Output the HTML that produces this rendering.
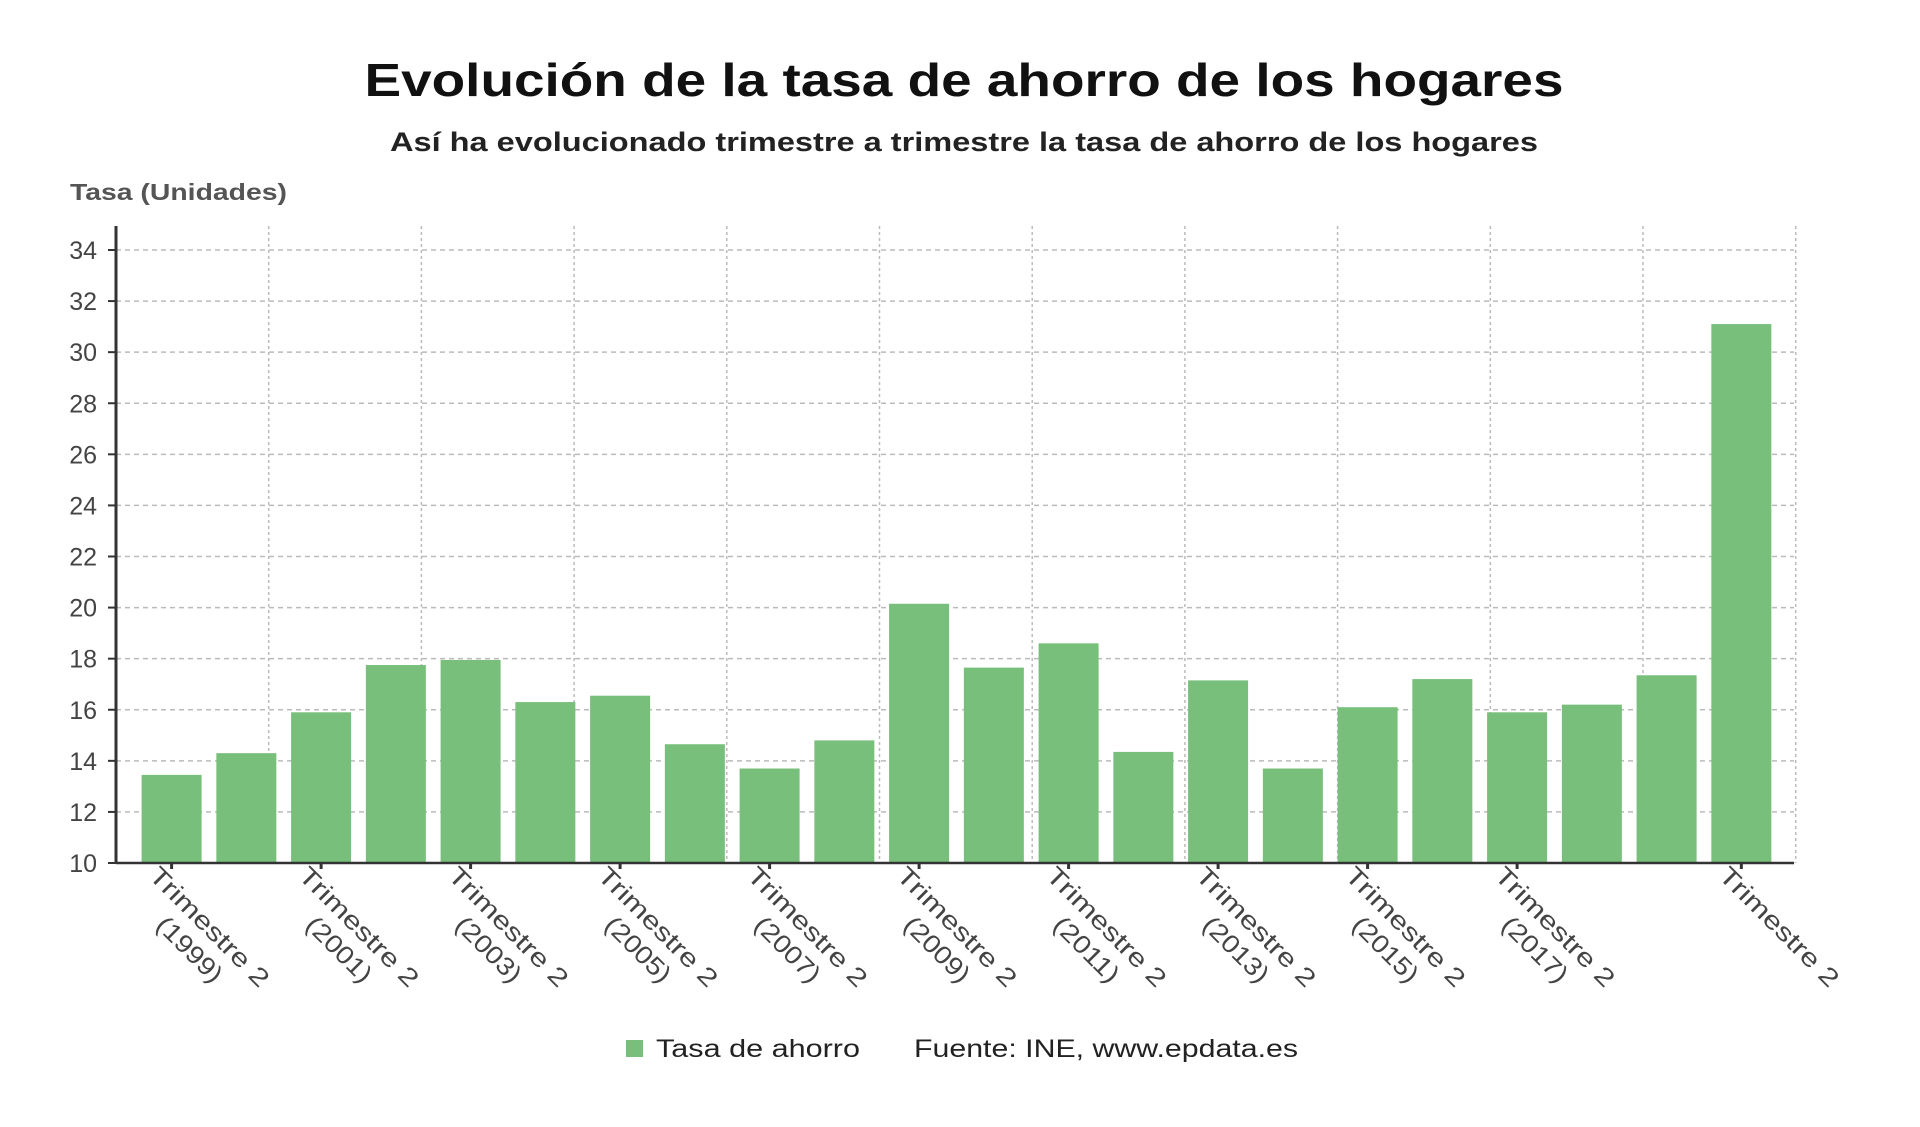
<!DOCTYPE html>
<html><head><meta charset="utf-8"><style>
html,body{margin:0;padding:0;background:#fff;}
svg{display:block;font-family:"Liberation Sans",sans-serif;}
</style></head><body>
<svg id="chart" width="1920" height="1127" viewBox="0 0 1920 1127">
<text x="964" y="96" text-anchor="middle" font-size="46" font-weight="bold" fill="#111" textLength="1199" lengthAdjust="spacingAndGlyphs">Evolución de la tasa de ahorro de los hogares</text>
<text x="964" y="151" text-anchor="middle" font-size="27" font-weight="bold" fill="#222" textLength="1148" lengthAdjust="spacingAndGlyphs">Así ha evolucionado trimestre a trimestre la tasa de ahorro de los hogares</text>
<text x="70" y="200" font-size="23" font-weight="bold" fill="#555" textLength="217" lengthAdjust="spacingAndGlyphs">Tasa (Unidades)</text>
<g id="grid"></g><g id="bars"></g><g id="axes"></g><g id="labels"></g>
<rect x="626" y="1040" width="17" height="17" fill="#77bf7a"/>
<text x="656" y="1057" font-size="25" fill="#222" textLength="204" lengthAdjust="spacingAndGlyphs">Tasa de ahorro</text>
<text x="914" y="1057" font-size="25" fill="#222" textLength="384" lengthAdjust="spacingAndGlyphs">Fuente: INE, www.epdata.es</text>
</svg>
<script>
const categories = ["Trimestre 2 (1999)","Trimestre 2 (2000)","Trimestre 2 (2001)","Trimestre 2 (2002)","Trimestre 2 (2003)","Trimestre 2 (2004)","Trimestre 2 (2005)","Trimestre 2 (2006)","Trimestre 2 (2007)","Trimestre 2 (2008)","Trimestre 2 (2009)","Trimestre 2 (2010)","Trimestre 2 (2011)","Trimestre 2 (2012)","Trimestre 2 (2013)","Trimestre 2 (2014)","Trimestre 2 (2015)","Trimestre 2 (2016)","Trimestre 2 (2017)","Trimestre 2 (2018)","Trimestre 2 (2019)","Trimestre 2"];
const values = [13.45,14.3,15.9,17.75,17.95,16.3,16.55,14.65,13.7,14.8,20.15,17.65,18.6,14.35,17.15,13.7,16.1,17.2,15.9,16.2,17.35,31.1];
const yTicks = [10,12,14,16,18,20,22,24,26,28,30,32,34];
const labeledIndex = [0,2,4,6,8,10,12,14,16,18,21];
const NS="http://www.w3.org/2000/svg";
const L=116,R=1794,Y0=863,PX=(863-250)/24;
const yS=v=>Y0-(v-10)*PX;
const step=74.75, first=171.6, bw=60;
const xS=i=>first+i*step;
function mk(t,a,p){const e=document.createElementNS(NS,t);for(const k in a)e.setAttribute(k,a[k]);p.appendChild(e);return e;}
const grid=document.getElementById('grid'),bars=document.getElementById('bars'),axes=document.getElementById('axes'),labels=document.getElementById('labels');
yTicks.forEach(v=>{
  const g=mk('line',{x1:L,x2:R,y1:yS(v),y2:yS(v),stroke:'#bbb','stroke-width':1.5,'stroke-dasharray':'5,4'},grid);
  
  
  const t=mk('text',{x:97,y:yS(v)+9,'text-anchor':'end','font-size':25,fill:'#444'},labels);
  t.textContent=v;
  
  
  mk('line',{x1:L-8,x2:L,y1:yS(v),y2:yS(v),stroke:'#333','stroke-width':2},axes);
});
for(let k=1;k<=11;k++){
  const x=L+k*152.7;
  const g=mk('line',{x1:x,x2:x,y1:226,y2:Y0,stroke:'#bbb','stroke-width':1.5,'stroke-dasharray':'3,3'},grid);
  
  
}
values.forEach((v,i)=>{
  const r=mk('rect',{x:xS(i)-bw/2,y:yS(v),width:bw,height:Y0-yS(v),fill:'#77bf7a'},bars);
  
  
});
mk('line',{x1:L,x2:L,y1:226,y2:Y0,stroke:'#333','stroke-width':3},axes);
mk('line',{x1:L,x2:R,y1:Y0,y2:Y0,stroke:'#333','stroke-width':2.5},axes);
labeledIndex.forEach(i=>{
  const x=xS(i);
  mk('line',{x1:x,x2:x,y1:Y0,y2:Y0+6,stroke:'#333','stroke-width':3},axes);
  const c=categories[i];const m=c.match(/^(.*?)\s*(\(\d+\))?$/);
  const t=mk('text',{x:0,y:0,'font-size':25,fill:'#444',transform:`translate(${x-24},${Y0+14}) rotate(45)`},labels);
  const s1=mk('tspan',{x:0,dy:0,textLength:158,lengthAdjust:'spacingAndGlyphs'},t);s1.textContent=m[1];
  if(m[2]){const s2=mk('tspan',{x:40,dy:30,textLength:82,lengthAdjust:'spacingAndGlyphs'},t);s2.textContent=m[2];}
  
  
});
</script>
</body></html>
